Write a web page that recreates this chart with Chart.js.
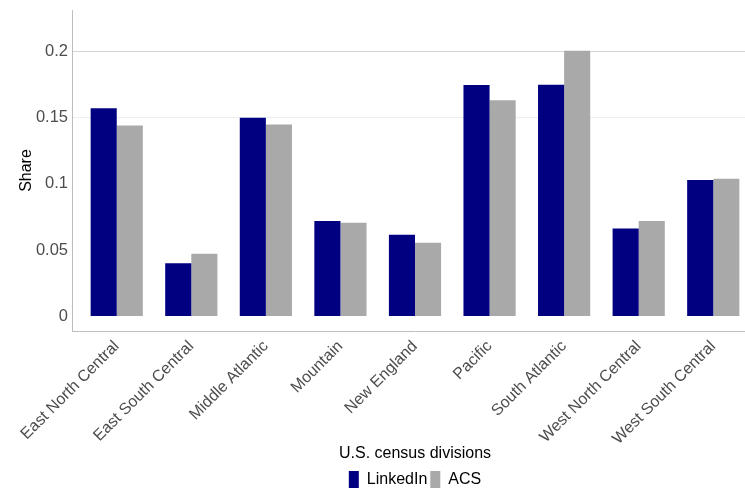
<!DOCTYPE html>
<html>
<head>
<meta charset="utf-8">
<script src="https://cdn.jsdelivr.net/npm/chart.js@4/dist/chart.umd.min.js"></script>
<style>
  html, body { margin: 0; padding: 0; background: #fff; overflow: hidden; }
  #wrap { width: 762px; height: 498px; }
</style>
</head>
<body>
<div id="wrap"><canvas id="chart" width="762" height="498"></canvas></div>
<script>
const divisions = ["East North Central", "East South Central", "Middle Atlantic", "Mountain",
    "New England", "Pacific", "South Atlantic", "West North Central", "West South Central"];
const linkedin = [0.157, 0.040, 0.1497, 0.072, 0.0616, 0.1745, 0.1746, 0.0663, 0.1029];
const acs = [0.144, 0.0473, 0.1447, 0.0706, 0.0556, 0.163, 0.2003, 0.0719, 0.1037];
const yTicks = [0, 0.05, 0.1, 0.15, 0.2];

const font = "'Liberation Sans', Arial, sans-serif";

// bars sit at x = 1..9 on a linear axis so the side padding matches ggplot
const toPoints = (vals) => vals.map((v, i) => ({ x: i + 1, y: v }));

new Chart(document.getElementById("chart"), {
    type: "bar",
    data: {
        datasets: [
            { label: "LinkedIn", data: toPoints(linkedin), backgroundColor: "#000080",
              categoryPercentage: 0.7, barPercentage: 1.0, borderWidth: 0 },
            { label: "ACS", data: toPoints(acs), backgroundColor: "#a9a9a9",
              categoryPercentage: 0.7, barPercentage: 1.0, borderWidth: 0 }
        ]
    },
    options: {
        responsive: false,
        animation: false,
        layout: { padding: { left: 0, right: 4, top: 10, bottom: 0 } },
        plugins: {
            tooltip: { enabled: false },
            legend: {
                position: "bottom",
                fullSize: false,
                labels: {
                    font: { family: font, size: 16 },
                    color: "#000",
                    boxWidth: 10,
                    boxHeight: 17,
                    padding: 3,
                    useBorderRadius: false
                }
            }
        },
        scales: {
            x: {
                type: "linear",
                offset: false,
                min: 0.4,
                max: 9.6,
                afterBuildTicks: (scale) => {
                    scale.ticks = divisions.map((d, i) => ({ value: i + 1 }));
                },
                afterFit: (scale) => { scale.height = 137; },
                ticks: {
                    autoSkip: false,
                    maxRotation: 45,
                    minRotation: 45,
                    padding: 2,
                    color: "#4d4d4d",
                    font: { family: font, size: 16 },
                    callback: (v) => divisions[Math.round(v) - 1] || ""
                },
                grid: { display: false, drawTicks: true, tickLength: 4 },
                border: { display: true, color: "#bdbdbd", width: 1 },
                title: {
                    display: true,
                    text: "U.S. census divisions",
                    color: "#000",
                    font: { family: font, size: 16 },
                    padding: { top: 0, bottom: 5 }
                }
            },
            y: {
                min: -0.011,
                max: 0.231,
                afterBuildTicks: (scale) => {
                    scale.ticks = yTicks.map((v) => ({ value: v }));
                },
                afterFit: (scale) => {
                    scale.width = 72;
                    scale.paddingTop = 0;
                    scale.paddingBottom = 0;
                },
                ticks: {
                    color: "#4d4d4d",
                    padding: 4,
                    font: { family: font, size: 16.5 },
                    callback: (v) => String(v)
                },
                grid: {
                    drawTicks: false,
                    color: (ctx) => {
                        const v = ctx.tick && ctx.tick.value;
                        if (v === 0.2) return "#d4d4d4";
                        if (v === 0.15) return "#eeeeee";
                        return "rgba(0,0,0,0)";
                    },
                    lineWidth: 1
                },
                border: { display: true, color: "#bdbdbd", width: 1 },
                title: {
                    display: true,
                    text: "Share",
                    color: "#000",
                    font: { family: font, size: 16 },
                    padding: { top: 17, bottom: 0 }
                }
            }
        }
    }
});
</script>
</body>
</html>
